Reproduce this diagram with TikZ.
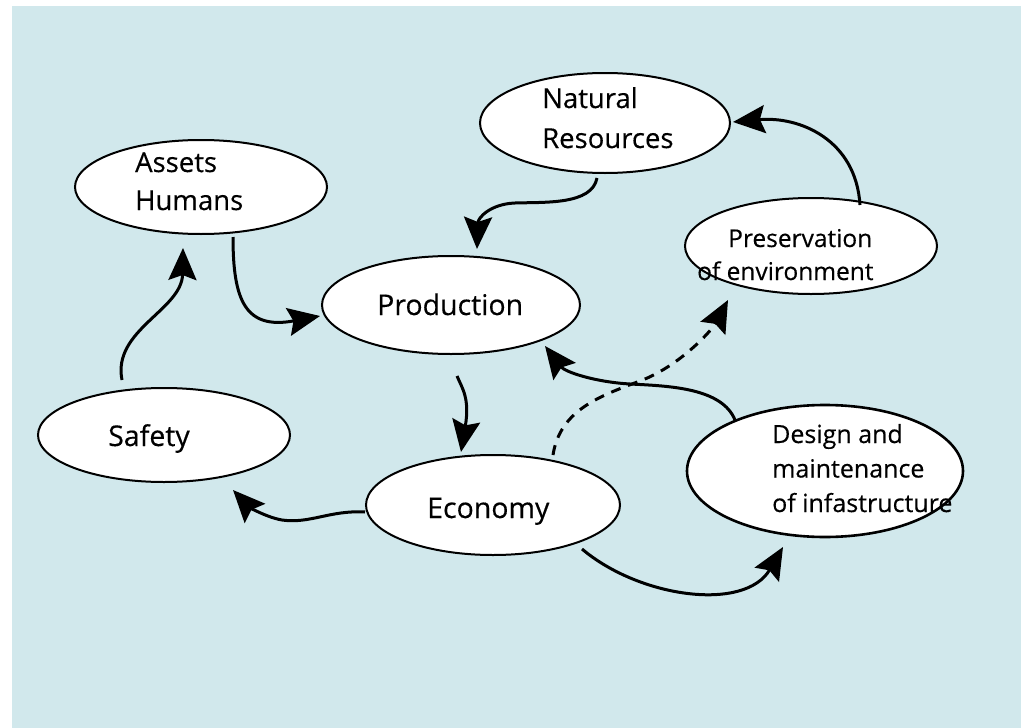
\documentclass[tikz,border=0pt]{standalone}
\usepackage{fontspec}
\setmainfont{Open Sans}[FakeBold=0.35]
\usetikzlibrary{shapes.geometric, arrows.meta}
\definecolor{bgblue}{RGB}{209,232,236}
\begin{document}
\begin{tikzpicture}[x=1pt,y=-1pt,
  bub/.style={ellipse, draw=black, line width=2pt, fill=white, inner sep=0pt, outer sep=0pt},
  lbl/.style={anchor=base west, inner sep=0pt, align=left},
  conn/.style={line width=3pt, -{Stealth[length=32pt,width=28pt,inset=5pt]}},
  dconn/.style={conn, dash pattern=on 10pt off 8pt},
]
\useasboundingbox (0,0) rectangle (1021,728);
\fill[white] (0,0) rectangle (1021,728);
\fill[bgblue] (12,6) rectangle (1021,728);

% bubbles
\node[bub, minimum width=252pt, minimum height=94pt] (assets) at (201,187) {};
\node[bub, minimum width=250pt, minimum height=100pt] (natural) at (605,123) {};
\node[bub, minimum width=258pt, minimum height=98pt] (production) at (451,305) {};
\node[bub, minimum width=252pt, minimum height=96pt] (preservation) at (811,246) {};
\node[bub, minimum width=252pt, minimum height=94pt] (safety) at (164,435) {};
\node[bub, minimum width=254pt, minimum height=100pt] (economy) at (493,505) {};
\node[bub, line width=2.6pt, minimum width=276pt, minimum height=132pt] (design) at (825,471) {};

% labels (base anchor = baseline of the last line)
\node[lbl, font=\fontsize{27.5}{38}\selectfont] (tassets) at (135,210) {Assets\\Humans};
\node[lbl, font=\fontsize{27.5}{40}\selectfont] (tnatural) at (542,148) {Natural\\Resources};
\node[lbl, font=\fontsize{28.5}{38}\selectfont] (tproduction) at (377,315) {Production};
\node[lbl, font=\fontsize{24.5}{33}\selectfont] (tpreservation) at (697,280) {\hspace{31pt}Preservation\\of environment};
\node[lbl, font=\fontsize{28.5}{38}\selectfont] (tsafety) at (108,446) {Safety};
\node[lbl, font=\fontsize{28.5}{38}\selectfont] (teconomy) at (427,518) {Economy};
\node[lbl, font=\fontsize{25}{34.5}\selectfont] (tdesign) at (772,512) {Design and\\maintenance\\of infastructure};

% anchors for connector ends
\coordinate (a1) at (233,237);  \coordinate (p1) at (320,316);
\coordinate (n1) at (597,178);  \coordinate (p2) at (477,249);
\coordinate (v1) at (860,205);  \coordinate (n2) at (733,122);
\coordinate (d1) at (735,420);  \coordinate (p3) at (545,346);
\coordinate (e1) at (553,455);  \coordinate (v2) at (728,300);
\coordinate (p4) at (457,376);  \coordinate (e2) at (461,452);
\coordinate (e3) at (365,512);  \coordinate (s1) at (233,490);
\coordinate (e4) at (582,549);  \coordinate (d2) at (783,547);
\coordinate (s2) at (122,380);  \coordinate (a2) at (183,248);

% connectors
\draw[conn] (a1) .. controls (233,300) and (245,330) .. (p1);
\draw[conn] (n1) .. controls (592,205) and (545,202) .. (515,203) .. controls (490,204) and (478,218) .. (p2);
\draw[conn] (v1) .. controls (856,140) and (800,116) .. (n2);
\draw[conn] (d1) .. controls (722,388) and (670,386) .. (630,384) .. controls (595,382) and (565,372) .. (p3);
\draw[dconn] (e1) .. controls (560,410) and (600,396) .. (640,381) .. controls (680,366) and (712,330) .. (v2);
\draw[conn] (p4) .. controls (462,388) and (470,398) .. (e2);
\draw[conn] (e3) .. controls (330,510) and (310,524) .. (282,520) .. controls (265,517) and (248,506) .. (s1);
\draw[conn] (e4) .. controls (640,598) and (745,612) .. (d2);
\draw[conn] (s2) .. controls (112,330) and (182,310) .. (a2);
\end{tikzpicture}
\end{document}
